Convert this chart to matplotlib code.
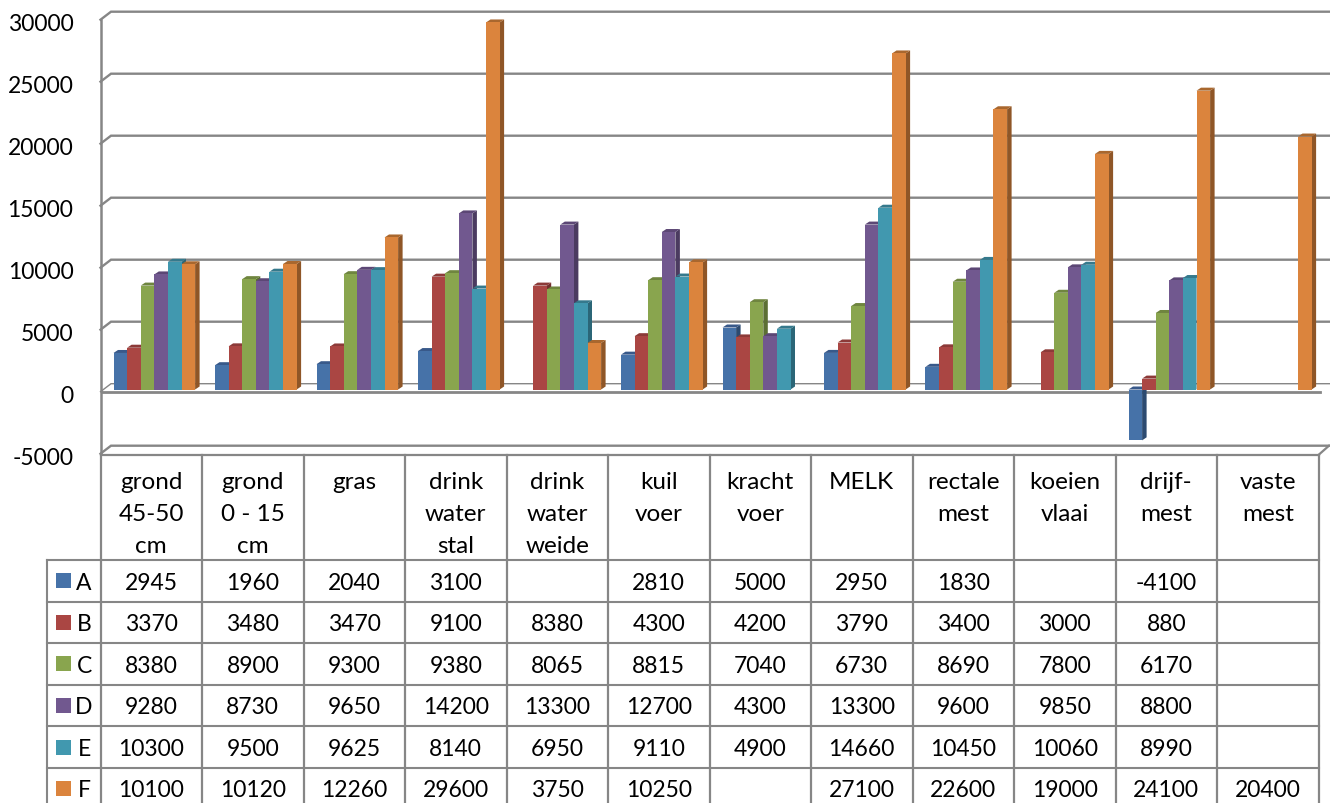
import numpy as np
import matplotlib

matplotlib.use("Agg")
import matplotlib.pyplot as plt
from matplotlib.patches import Polygon
from matplotlib.transforms import ScaledTranslation

plt.rcParams["font.family"] = ["Lato", "DejaVu Sans"]
plt.rcParams["axes.unicode_minus"] = False

CATEGORIES = [
    ["grond", "45-50", "cm"], ["grond", "0 - 15", "cm"], ["gras"],
    ["drink", "water", "stal"], ["drink", "water", "weide"], ["kuil", "voer"],
    ["kracht", "voer"], ["MELK"], ["rectale", "mest"], ["koeien", "vlaai"],
    ["drijf-", "mest"], ["vaste", "mest"],
]
SERIES = ["A", "B", "C", "D", "E", "F"]
A = [2945, 1960, 2040, 3100, None, 2810, 5000, 2950, 1830, None, -4100, None]
B = [3370, 3480, 3470, 9100, 8380, 4300, 4200, 3790, 3400, 3000, 880, None]
C = [8380, 8900, 9300, 9380, 8065, 8815, 7040, 6730, 8690, 7800, 6170, None]
D = [9280, 8730, 9650, 14200, 13300, 12700, 4300, 13300, 9600, 9850, 8800, None]
E = [10300, 9500, 9625, 8140, 6950, 9110, 4900, 14660, 10450, 10060, 8990, None]
F = [10100, 10120, 12260, 29600, 3750, 10250, None, 27100, 22600, 19000, 24100, 20400]
VALUES = [A, B, C, D, E, F]
Y_TICKS = [-5000, 0, 5000, 10000, 15000, 20000, 25000, 30000]

FRONT = ["#4672A8", "#AA4643", "#89A54E", "#71588F", "#4198AF", "#DB843D"]
SIDE = ["#2C4A70", "#73302E", "#5C6F34", "#4B3B60", "#2B6677", "#8F5627"]
TOP = ["#38598A", "#8C3A38", "#6F853F", "#5C4775", "#35798C", "#A9672E"]
GRID = "#868686"

W, H = 1330, 804
CAT_W = 101.5
LEFT = 100.5
PX_PER_UNIT = 0.0124
ZERO_PX = 392.7
BOTTOM_PX = 460
FS = 16.5
FS_CAT = 17.5
TEXT_DY = 1.5  # matplotlib centres text a bit high

# wall depth and bar depth, in data units
WALL_DX, WALL_DY = 10.5 / CAT_W, 8 / PX_PER_UNIT
BAR_DX, BAR_DY = 4.5 / CAT_W, 3 / PX_PER_UNIT
BAR_W = 13.6 / CAT_W
BAR_START = 13 / CAT_W
BAR_BASE = 2.2 / PX_PER_UNIT

fig = plt.figure(figsize=(W / 100, H / 100), dpi=100)

# data table underneath, in pixel coordinates
tb = fig.add_axes([0, 0, 1, 1])
tb.set_xlim(0, W)
tb.set_ylim(H, 0)
tb.axis("off")

n_cat = len(CATEGORIES)
edges = LEFT + CAT_W * np.arange(n_cat + 1)
row_y = [561, 602.5, 644, 685.5, 727, 769, 810]

tb.plot([edges[0], edges[-1]], [456, 456], color=GRID, lw=1.6)
for y in row_y[:-1]:
    tb.plot([47, edges[-1]], [y, y], color=GRID, lw=1.5)
for x in edges:
    tb.plot([x, x], [456, H], color=GRID, lw=1.6)
tb.plot([47, 47], [row_y[0], H], color=GRID, lw=1.5)

for i, lines in enumerate(CATEGORIES):
    for j, line in enumerate(lines):
        tb.text(edges[i] + CAT_W / 2, 481 + TEXT_DY + 32 * j, line, ha="center", va="center",
                fontsize=FS_CAT, color="black")

for s, name in enumerate(SERIES):
    yc = (row_y[s] + row_y[s + 1]) / 2
    tb.add_patch(plt.Rectangle((56, yc - 7.5), 15, 15, color=FRONT[s], lw=0))
    tb.text(84, yc + TEXT_DY, name, ha="center", va="center", fontsize=FS, color="black")
    for i, v in enumerate(VALUES[s]):
        if v is not None:
            tb.text(edges[i] + CAT_W / 2, yc + TEXT_DY, str(v), ha="center", va="center",
                    fontsize=FS, color="black")

# chart on its own axes
ax = fig.add_axes([LEFT / W, 1 - BOTTOM_PX / H, (W - LEFT) / W, BOTTOM_PX / H])
ax.patch.set_visible(False)
ax.set_xlim(0, (W - LEFT) / CAT_W)
ax.set_ylim(-(BOTTOM_PX - ZERO_PX) / PX_PER_UNIT, ZERO_PX / PX_PER_UNIT)
for sp in ax.spines.values():
    sp.set_visible(False)
ax.set_xticks([])
ax.set_yticks(Y_TICKS)
ax.tick_params(axis="y", length=0, pad=19.5, labelsize=FS, labelcolor="black")
label_shift = ScaledTranslation(0, -1.5 / 100, fig.dpi_scale_trans)
for lab in ax.get_yticklabels():
    lab.set_transform(lab.get_transform() + label_shift)

x_end = ax.get_xlim()[1]
for v in Y_TICKS:
    lw = 1.0 if v == 0 else 1.7
    ax.plot([0, WALL_DX, x_end], [v, v + WALL_DY, v + WALL_DY], color=GRID, lw=lw,
            solid_joinstyle="miter", zorder=1, clip_on=False)
ax.plot([0, 0], [Y_TICKS[0], Y_TICKS[-1]], color=GRID, lw=1.8, zorder=2, clip_on=False)
ax.plot([0, n_cat + 0.01], [0, 0], color=GRID, lw=2.0, zorder=2)
ax.plot([n_cat, n_cat + WALL_DX], [-5000 - 100, -5000 + WALL_DY], color=GRID, lw=1.6,
        zorder=1, clip_on=False)

for s, series in enumerate(VALUES):
    for i, v in enumerate(series):
        if v is None:
            continue
        x0 = i + BAR_START + s * BAR_W
        x1 = x0 + BAR_W
        hi = max(v, 0) + BAR_BASE
        lo = min(v, 0) + BAR_BASE
        z = 3 + s * 0.1 + i * 0.001
        ax.bar(x0, v, width=BAR_W, bottom=BAR_BASE, align="edge", color=FRONT[s],
               lw=0, zorder=z + 0.02)
        ax.add_patch(Polygon([(x1, lo), (x1 + BAR_DX, lo + BAR_DY), (x1 + BAR_DX, hi + BAR_DY), (x1, hi)],
                             closed=True, color=SIDE[s], lw=0, zorder=z))
        ax.add_patch(Polygon([(x0, hi), (x1, hi), (x1 + BAR_DX, hi + BAR_DY), (x0 + BAR_DX, hi + BAR_DY)],
                             closed=True, color=TOP[s], lw=0, zorder=z + 0.01))

fig.savefig("out.png", dpi=100)
